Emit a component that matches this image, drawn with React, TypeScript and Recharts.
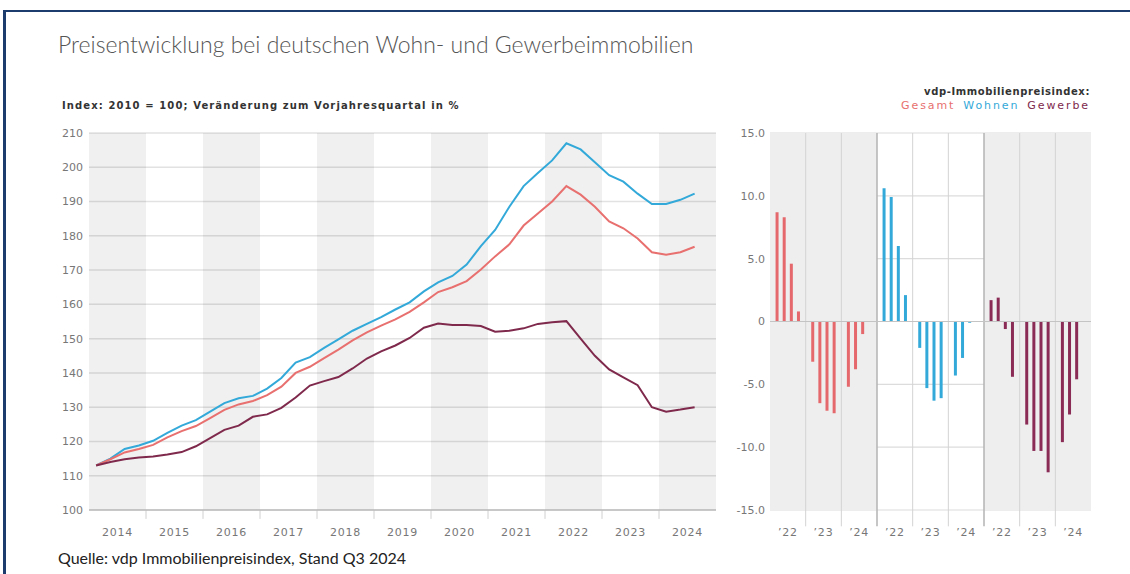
import {
  LineChart,
  Line,
  BarChart,
  Bar,
  Cell,
  XAxis,
  YAxis,
  CartesianGrid,
  ReferenceArea,
  ReferenceLine,
} from "recharts";

// Index series, 2014 Q1 .. 2024 Q3 (2010 = 100)
const years = [2014, 2015, 2016, 2017, 2018, 2019, 2020, 2021, 2022, 2023, 2024];
const wohnenIndex = [
  113.0, 115.0, 117.8, 118.8, 120.2, 122.5, 124.6, 126.2, 128.7, 131.2, 132.6,
  133.3, 135.4, 138.5, 143.0, 144.6, 147.3, 149.8, 152.3, 154.3, 156.3, 158.5,
  160.6, 163.8, 166.4, 168.3, 171.6, 177.0, 181.7, 188.5, 194.5, 198.3, 202.0,
  207.0, 205.2, 201.5, 197.7, 195.8, 192.3, 189.3, 189.3, 190.5, 192.3,
];
const gesamtIndex = [
  113.0, 114.8, 116.8, 117.8, 119.0, 121.2, 123.0, 124.5, 126.8, 129.2, 130.8,
  131.8, 133.5, 136.0, 140.0, 141.8, 144.3, 146.8, 149.5, 151.8, 153.8, 155.6,
  157.8, 160.6, 163.6, 165.0, 166.8, 170.2, 174.0, 177.5, 183.0, 186.5, 190.0,
  194.5, 192.0, 188.5, 184.2, 182.2, 179.2, 175.2, 174.5, 175.2, 176.8,
];
const gewerbeIndex = [
  113.0, 114.0, 114.8, 115.3, 115.6, 116.2, 116.9, 118.6, 121.0, 123.4, 124.6,
  127.2, 127.9, 129.8, 132.8, 136.3, 137.6, 138.8, 141.3, 144.2, 146.3, 148.0,
  150.2, 153.2, 154.4, 154.0, 154.0, 153.7, 152.0, 152.3, 153.0, 154.3, 154.8,
  155.1, 150.0, 145.0, 141.0, 138.7, 136.4, 130.0, 128.7, 129.3, 130.0,
];
const indexTicks = [100, 110, 120, 130, 140, 150, 160, 170, 180, 190, 200, 210];

// Change vs. previous-year quarter in %, 2022 Q1 .. 2024 Q3
const changeYears = ["’22", "’23", "’24"];
const gesamtChange = [8.7, 8.3, 4.6, 0.8, -3.2, -6.5, -7.1, -7.3, -5.2, -3.8, -1.0];
const wohnenChange = [10.6, 9.9, 6.0, 2.1, -2.1, -5.3, -6.3, -6.1, -4.3, -2.9, -0.1];
const gewerbeChange = [1.7, 1.9, -0.6, -4.4, -8.2, -10.3, -10.3, -12.0, -9.6, -7.4, -4.6];
const changeTicks = [15, 10, 5, 0, -5, -10, -15];

const RED = "#e8706f";
const BLUE = "#33a9d9";
const WINE = "#7f2a4c";
const BAR_RED = "#e5686c";
const BAR_WINE = "#8a2b55";

const lineData = wohnenIndex.map((w, i) => ({
  t: years[0] + (i + 0.5) / 4,
  wohnen: w,
  gesamt: gesamtIndex[i],
  gewerbe: gewerbeIndex[i],
}));

// 15 slots per panel: 4 quarters + 1 gap per year
const panels = [
  { values: gesamtChange, color: BAR_RED },
  { values: wohnenChange, color: BLUE },
  { values: gewerbeChange, color: BAR_WINE },
];
const barData = panels.flatMap((p, pi) =>
  p.values.map((v, j) => ({
    k: pi * 15 + Math.floor(j / 4) * 5 + (j % 4),
    value: v,
    color: p.color,
  }))
);
const barTicks = panels.flatMap((_, pi) => changeYears.map((_, yi) => pi * 15 + yi * 5 + 1.5));
const yearLines = panels.flatMap((_, pi) => [pi * 15 + 4, pi * 15 + 9]);

const tickFont = { fill: "#777", fontSize: 11, fontFamily: "DejaVu Sans" };

export default function App() {
  return (
    <div
      style={{
        position: "absolute",
        left: 0,
        top: 0,
        width: 1130,
        height: 574,
        background: "#fff",
        overflow: "hidden",
      }}
    >
      <div
        style={{
          position: "absolute",
          left: 3,
          top: 10,
          width: 1140,
          height: 600,
          borderTop: "2.5px solid #1c3c6e",
          borderLeft: "3px solid #1c3c6e",
        }}
      />
      <div
        style={{
          position: "absolute",
          left: 58,
          top: 30,
          fontFamily: "Lato",
          fontWeight: 300,
          fontSize: 23,
          color: "#555",
          whiteSpace: "nowrap",
        }}
      >
        Preisentwicklung bei deutschen Wohn- und Gewerbeimmobilien
      </div>
      <div
        style={{
          position: "absolute",
          left: 62,
          top: 100,
          fontFamily: "DejaVu Sans",
          fontWeight: 700,
          fontSize: 10,
          letterSpacing: 1.1,
          color: "#333",
          whiteSpace: "nowrap",
        }}
      >
        Index: 2010 = 100; Veränderung zum Vorjahresquartal in %
      </div>
      <div
        style={{
          position: "absolute",
          right: 40,
          top: 85,
          fontFamily: "DejaVu Sans",
          textAlign: "right",
          lineHeight: "14px",
          whiteSpace: "nowrap",
        }}
      >
        <div style={{ fontWeight: 700, color: "#333", fontSize: 10, letterSpacing: 0.6 }}>
          vdp-Immobilienpreisindex:
        </div>
        <div style={{ fontSize: 11, letterSpacing: 1.9 }}>
          <span style={{ color: RED }}>Gesamt</span>
          <span style={{ color: BLUE, marginLeft: 8 }}>Wohnen</span>
          <span style={{ color: WINE, marginLeft: 8 }}>Gewerbe</span>
        </div>
      </div>

      <div style={{ position: "absolute", left: 40, top: 120 }}>
        <LineChart
          width={700}
          height={430}
          data={lineData}
          margin={{ top: 13, right: 24, bottom: 15, left: 4 }}
        >
          {years
            .filter((_, i) => i % 2 === 0)
            .map((y) => (
              <ReferenceArea key={y} x1={y} x2={y + 1} fill="#000" fillOpacity={0.06} strokeOpacity={0} />
            ))}
          <CartesianGrid vertical={false} stroke="#e2e2e2" strokeWidth={1.5} />
          {years.slice(1).map((y) => (
            <ReferenceLine
              key={y}
              segment={[{ x: y, y: 100 }, { x: y, y: 97.4 }]}
              stroke="#d0d0d0"
              ifOverflow="visible"
            />
          ))}
          <XAxis
            dataKey="t"
            type="number"
            domain={[2014, 2025]}
            ticks={years.map((y) => y + 0.5)}
            tickFormatter={(v) => String(Math.floor(v))}
            tick={{ ...tickFont, letterSpacing: 0.8 }}
            tickLine={false}
            tickSize={8}
            tickMargin={10}
            axisLine={{ stroke: "#bdbdbd", strokeWidth: 1.5 }}
            height={25}
          />
          <YAxis
            domain={[100, 210]}
            ticks={indexTicks}
            tick={tickFont}
            tickLine={false}
            axisLine={false}
            tickSize={4}
            tickMargin={2}
            width={45}
          />
          <Line dataKey="wohnen" stroke={BLUE} strokeWidth={2} dot={false} type="linear" isAnimationActive={false} />
          <Line dataKey="gesamt" stroke={RED} strokeWidth={2} dot={false} type="linear" isAnimationActive={false} />
          <Line dataKey="gewerbe" stroke={WINE} strokeWidth={2} dot={false} type="linear" isAnimationActive={false} />
        </LineChart>
      </div>

      <div style={{ position: "absolute", left: 720, top: 120 }}>
        <BarChart
          width={400}
          height={430}
          data={barData}
          margin={{ top: 13, right: 29, bottom: 15, left: 0 }}
        >
          <ReferenceArea x1={-1} x2={14} fill="#eeeeee" fillOpacity={1} strokeOpacity={0} />
          <ReferenceArea x1={29} x2={44} fill="#eeeeee" fillOpacity={1} strokeOpacity={0} />
          <CartesianGrid vertical={false} stroke="#dcdcdc" strokeWidth={1.2} />
          {yearLines.map((k) => (
            <ReferenceLine
              key={k}
              segment={[{ x: k, y: 15 }, { x: k, y: -16.3 }]}
              stroke="#d3d3d3"
              ifOverflow="visible"
            />
          ))}
          {[14, 29].map((k) => (
            <ReferenceLine
              key={k}
              segment={[{ x: k, y: 15 }, { x: k, y: -16.3 }]}
              stroke="#b3b3b3"
              strokeWidth={1.5}
              ifOverflow="visible"
            />
          ))}
          <ReferenceLine y={0} stroke="#c4c4c4" strokeWidth={1.2} />
          <XAxis
            dataKey="k"
            type="number"
            domain={[-1, 44]}
            ticks={barTicks}
            tickFormatter={(v) => changeYears[Math.floor((v % 15) / 5)]}
            tick={{ ...tickFont, letterSpacing: 0.8 }}
            tickLine={false}
            tickSize={8}
            tickMargin={10}
            axisLine={false}
            height={25}
            allowDataOverflow
          />
          <YAxis
            domain={[-15, 15]}
            ticks={changeTicks}
            tickFormatter={(v) => (v === 0 ? "0" : v.toFixed(1))}
            tick={tickFont}
            tickLine={false}
            axisLine={false}
            tickSize={4}
            tickMargin={1}
            width={50}
          />
          <Bar dataKey="value" barSize={3} isAnimationActive={false}>
            {barData.map((d, i) => (
              <Cell key={i} fill={d.color} />
            ))}
          </Bar>
        </BarChart>
      </div>

      <div
        style={{
          position: "absolute",
          left: 58,
          top: 548,
          fontFamily: "Lato",
          fontSize: 16,
          color: "#222",
          whiteSpace: "nowrap",
        }}
      >
        Quelle: vdp Immobilienpreisindex, Stand Q3 2024
      </div>
    </div>
  );
}
